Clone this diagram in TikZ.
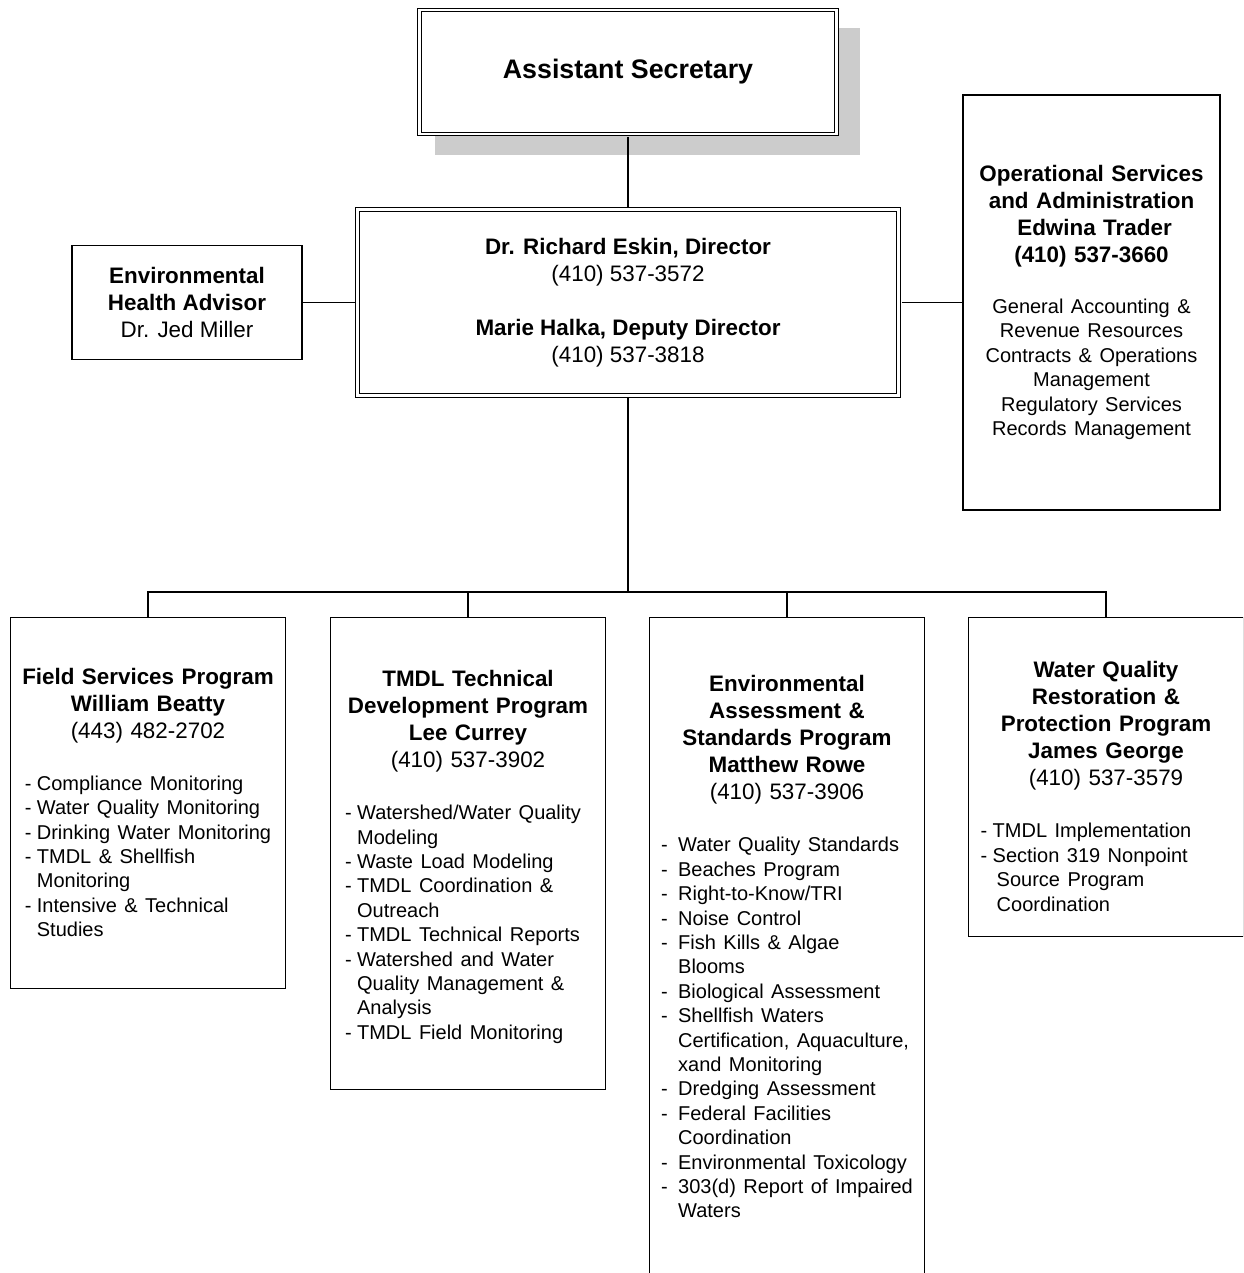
\documentclass[tikz,border=0pt]{standalone}
\usepackage{fontspec}
\setmainfont{Liberation Sans}
\usetikzlibrary{shadows}
\setlength{\parindent}{0pt}

\newcommand{\hdfont}{\fontsize{11.2}{13.5}\selectfont}
\newcommand{\lsfont}{\fontsize{10}{12.2}\selectfont}
\newcommand{\toplift}[1]{\rule{0pt}{#1}}
\newenvironment{duties}[2][0pt]{\par\lsfont\def\dutyshift{#1}\begin{tabular}[t]{@{}l@{\hspace{#2}}l@{}}}{\end{tabular}\hspace*{\dutyshift}\par}

\begin{document}
\begin{tikzpicture}[x=0.5pt,y=-0.5pt,line width=0.6pt,shorten <=1.2pt,
                    office node/.style={rectangle,draw,fill=white,align=center,font=\hdfont,inner sep=2pt},
                    double node/.style={office node,double,double distance=1.4pt,line width=0.5pt},
                    program node/.style={office node,anchor=north,minimum width=137.5pt,text width=133pt}]
\useasboundingbox (0,0) rectangle (1243,1273);
\clip (0,0) rectangle (1243,1273);

\node[double node,minimum width=270.6pt,minimum height=93pt] (dir) at (628,302.5)
  {\textbf{Dr. Richard Eskin, Director}\\ (410) 537-3572\\[13.5pt]
   \textbf{Marie Halka, Deputy Director}\\ (410) 537-3818};
\node[double node,font=\fontsize{13.4}{16}\selectfont\bfseries,minimum width=208.5pt,minimum height=62pt,
      drop shadow={shadow xshift=9.5pt,shadow yshift=-9.5pt,shadow scale=1.02,fill=black!20,opacity=1},
      node distance=115.25pt] (sec) [above of=dir] {Assistant Secretary};
\node[office node,minimum width=115pt,minimum height=57pt,node distance=220.5pt] (env) [left of=dir]
  {\textbf{Environmental}\\ \textbf{Health Advisor}\\ Dr. Jed Miller};
\node[office node,minimum width=128.5pt,minimum height=207.5pt,text width=124pt,node distance=231.75pt] (ops) [right of=dir]
  {{\bfseries Operational Services\\ and Administration\\ \hspace*{3pt}Edwina Trader\\ (410) 537-3660\par}
   \vspace{13.3pt}
   {\lsfont General Accounting \&\\ Revenue Resources\\ Contracts \& Operations\\ Management\\
    Regulatory Services\\ Records Management\par}};

% programs
\node[program node,minimum height=185.5pt] (fs) at (148,617)
  {\toplift{11pt}\textbf{Field Services Program\\ William Beatty}\\ (443) 482-2702\par
   \vspace{13.8pt}
   \begin{duties}{2.7pt}
   - & Compliance Monitoring\\
   - & Water Quality Monitoring\\
   - & Drinking Water Monitoring\\
   - & TMDL \& Shellfish\\
     & Monitoring\\
   - & Intensive \& Technical\\
     & Studies
   \end{duties}};
\node[program node,minimum height=236pt] (tm) at (468,617)
  {\toplift{13pt}\textbf{TMDL Technical\\ Development Program\\ Lee Currey}\\ (410) 537-3902\par
   \vspace{13.8pt}
   \begin{duties}[5pt]{2.7pt}
   - & Watershed/Water Quality\\
     & Modeling\\
   - & Waste Load Modeling\\
   - & TMDL Coordination \&\\
     & Outreach\\
   - & TMDL Technical Reports\\
   - & Watershed and Water\\
     & Quality Management \&\\
     & Analysis\\
   - & TMDL Field Monitoring
   \end{duties}};
\node[program node,minimum height=330pt] (ea) at (787,617)
  {\toplift{11pt}\textbf{Environmental\\ Assessment \&\\ Standards Program\\ Matthew Rowe}\\ (410) 537-3906\par
   \vspace{13.8pt}
   \begin{duties}{5.2pt}
   - & Water Quality Standards\\
   - & Beaches Program\\
   - & Right-to-Know/TRI\\
   - & Noise Control\\
   - & Fish Kills \& Algae\\
     & Blooms\\
   - & Biological Assessment\\
   - & Shellfish Waters\\
     & Certification, Aquaculture,\\
     & xand Monitoring\\
   - & Dredging Assessment\\
   - & Federal Facilities\\
     & Coordination\\
   - & Environmental Toxicology\\
   - & 303(d) Report of Impaired\\
     & Waters
   \end{duties}};
\node[program node,minimum height=159.5pt] (wq) at (1106,617)
  {\toplift{21pt}\textbf{Water Quality\\ Restoration \&\\ Protection Program\\ James George}\\ (410) 537-3579\par
   \vspace{13.8pt}
   \begin{duties}[20pt]{2.7pt}
   - & TMDL Implementation\\
   - & Section 319 Nonpoint\\
     & \hspace*{2pt}Source Program\\
     & \hspace*{2pt}Coordination
   \end{duties}};

\path
  (dir) edge[shorten >=1.2pt] (sec)
        edge (env)
        edge (ops);

\coordinate (bus) at (628,592);
\draw (dir) -- (bus);
\foreach \p in {fs,tm,ea,wq}
  \draw[shorten <=0pt] (bus) -| (\p);
\end{tikzpicture}
\end{document}
